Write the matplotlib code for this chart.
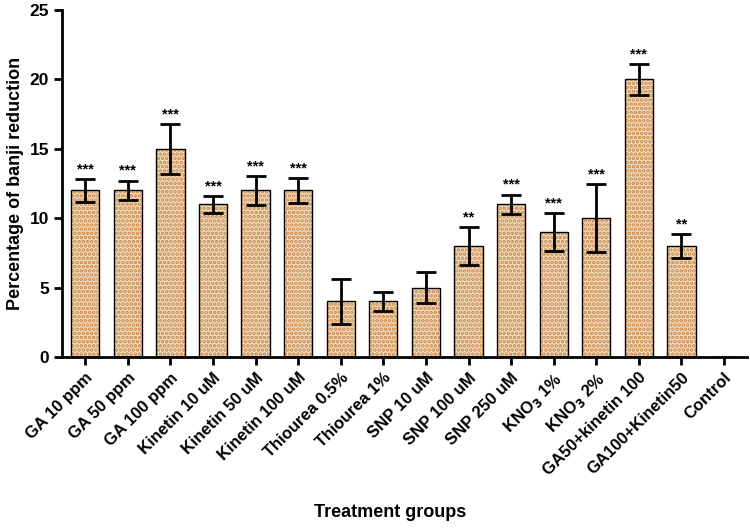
import numpy as np
import matplotlib.pyplot as plt

plt.rcParams['font.family'] = ['Liberation Sans', 'DejaVu Sans']
plt.rcParams['font.weight'] = 'bold'
plt.rcParams['mathtext.default'] = 'bf'
plt.rcParams['hatch.linewidth'] = 1.8

groups = ['GA 10 ppm', 'GA 50 ppm', 'GA 100 ppm', 'Kinetin 10 uM', 'Kinetin 50 uM',
          'Kinetin 100 uM', 'Thiourea 0.5%', 'Thiourea 1%', 'SNP 10 uM', 'SNP 100 uM',
          'SNP 250 uM', r'KNO$_3$ 1%', r'KNO$_3$ 2%', 'GA50+kinetin 100',
          'GA100+Kinetin50', 'Control']
means = [12, 12, 15, 11, 12, 12, 4, 4, 5, 8, 11, 9, 10, 20, 8, 0]
errors = [0.8, 0.7, 1.8, 0.6, 1.05, 0.9, 1.65, 0.7, 1.1, 1.35, 0.7, 1.35, 2.45, 1.1, 0.85, 0]
stars = ['***', '***', '***', '***', '***', '***', '', '', '', '**', '***', '***', '***',
         '***', '**', '']

fig = plt.figure(figsize=(7.5, 5.28), dpi=100)
ax = fig.add_axes([0.083, 0.324, 0.913, 0.657])

x = np.arange(len(groups))
width = 0.665
# patterned fill first, then black outline on top
ax.bar(x, means, width, color='#f2dcbe', edgecolor='#c8884c', hatch='....', linewidth=0)
ax.bar(x, means, width, color='none', edgecolor='black', linewidth=1.0)

for i in range(len(groups)):
    if means[i] == 0:
        continue
    ax.errorbar(x[i], means[i], yerr=errors[i], color='black', elinewidth=2,
                capsize=7, capthick=2)
    if stars[i]:
        ax.text(x[i], means[i] + errors[i] + 0.2, stars[i], ha='center', va='bottom',
                fontsize=10.5, fontweight='bold')

ax.set_xlim(-0.54, len(groups) - 0.46)
ax.set_ylim(0, 25)
ax.set_yticks([0, 5, 10, 15, 20, 25])
ax.set_xticks(x)
ax.set_xticklabels(groups, rotation=45, ha='right', rotation_mode='anchor',
                   fontsize=12, fontweight='bold')
ax.tick_params(axis='y', labelsize=12.5, width=2, length=6)
ax.tick_params(axis='x', width=2, length=6)
for t in ax.get_yticklabels():
    t.set_fontweight('bold')

ax.spines['top'].set_visible(False)
ax.spines['right'].set_visible(False)
ax.spines['left'].set_linewidth(2)
ax.spines['bottom'].set_linewidth(2)

ax.set_ylabel('Percentage of banji reduction', fontsize=13, fontweight='bold')
fig.text(0.52, 0.02, 'Treatment groups', ha='center', fontsize=13, fontweight='bold')

plt.savefig('out.png', dpi=100)
